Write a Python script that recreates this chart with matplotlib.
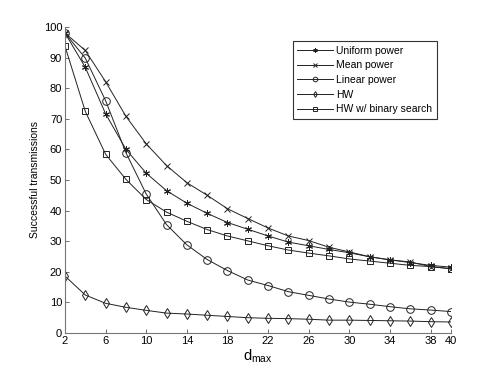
import matplotlib.pyplot as plt
import numpy as np

plt.rcParams['font.family'] = ['Liberation Sans', 'DejaVu Sans']

# d_max values
d_max = list(range(2, 41, 2))

# successful transmissions per scheme
uniform = [98, 86.8, 71.6, 60.0, 52.2, 46.5, 42.4, 39.1, 36.1, 33.9,
           31.7, 29.7, 28.5, 27.3, 26.2, 24.9, 23.9, 23.0, 22.1, 21.5]
mean = [98, 92.3, 82.1, 70.8, 61.8, 54.7, 49.1, 45.0, 40.6, 37.4,
        34.3, 31.7, 30.2, 28.0, 26.5, 24.9, 23.9, 23.2, 21.7, 21.0]
linear = [98, 89.8, 75.9, 58.9, 45.4, 35.4, 28.8, 24.0, 20.4, 17.3,
          15.5, 13.5, 12.3, 11.1, 10.1, 9.4, 8.6, 7.9, 7.5, 7.0]
hw = [18.6, 12.4, 9.7, 8.4, 7.4, 6.5, 6.2, 5.8, 5.4, 5.0,
      4.8, 4.7, 4.5, 4.2, 4.2, 4.1, 4.0, 3.9, 3.7, 3.6]
hw_bs = [93.7, 72.4, 58.4, 50.2, 43.6, 39.5, 36.5, 33.8, 31.7, 30.1,
         28.5, 27.1, 26.1, 25.2, 24.2, 23.5, 22.8, 22.1, 21.7, 21.0]

labels = ['Uniform power', 'Mean power', 'Linear power', 'HW', 'HW w/ binary search']
markers = [(6, 2, 0), 'x', 'o', 'd', 's']
sizes = [5, 4, 5.5, 5, 4.5]

xticks = [2, 6, 10, 14, 18, 22, 26, 30, 34, 38, 40]
yticks = list(range(0, 101, 10))

fig = plt.figure(figsize=(4.98, 3.74), dpi=100)
ax = fig.add_axes([0.1305, 0.1096, 0.775, 0.8184])

for ys, m, ms, lab in zip([uniform, mean, linear, hw, hw_bs], markers, sizes, labels):
    hollow = m in ('o', 'd', 's')
    ax.plot(d_max, ys, color='#222222', lw=0.7, marker=m, ms=ms,
            mfc='none' if hollow else '#222222', mec='#222222', mew=0.7, label=lab)

ax.set_xlim(2, 40)
ax.set_ylim(0, 100)
ax.set_xticks(xticks)
ax.set_yticks(yticks)
ax.tick_params(direction='in', length=3, width=0.6, labelsize=8, color='#555555', pad=2)
for s in ['top', 'right']:
    ax.spines[s].set_visible(False)
for s in ['left', 'bottom']:
    ax.spines[s].set_color('#777777')
    ax.spines[s].set_linewidth(0.8)

ax.set_ylabel('Successful transmissions', fontsize=7.5, labelpad=3)
ax.set_xlabel(r'd$_{\mathregular{max}}$', fontsize=10.5, labelpad=1)

leg = ax.legend(loc='upper right', bbox_to_anchor=(0.964, 0.954), borderaxespad=0,
                fontsize=7.5, fancybox=False, edgecolor='#333333', framealpha=1,
                handlelength=3.4, borderpad=0.45, labelspacing=0.45, handletextpad=0.35,
                markerscale=0.6)
leg.get_frame().set_linewidth(0.8)

fig.savefig('out.png', dpi=100)
